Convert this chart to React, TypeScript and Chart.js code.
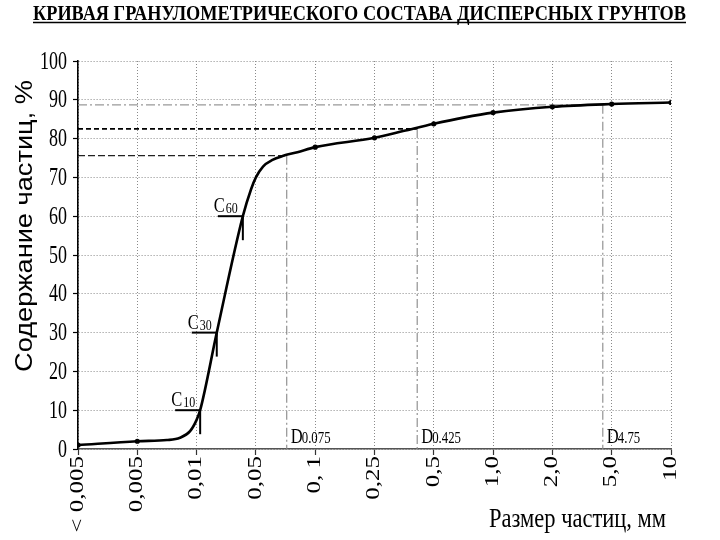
import React, { useEffect, useRef } from 'react';
import { Chart, registerables } from 'chart.js';

Chart.register(...registerables);

const titleText = 'КРИВАЯ ГРАНУЛОМЕТРИЧЕСКОГО СОСТАВА ДИСПЕРСНЫХ ГРУНТОВ';
const yAxisTitle = 'Содержание частиц, %';
const xAxisTitle = 'Размер частиц, мм';

const sizeCategories = ['< 0,005', '0,005', '0,01', '0,05', '0, 1', '0,25', '0,5', '1,0', '2,0', '5,0', '10'];
const yTickValues = [0, 10, 20, 30, 40, 50, 60, 70, 80, 90, 100];

// grading curve: x = category index (fractional between categories), y = % passing
const curveX = [0, 1, 1.5, 1.72, 1.89, 2.0, 2.06, 2.34, 2.78, 2.92, 3.0, 3.12, 3.28, 3.45, 3.7, 4, 5, 5.5, 6, 6.5, 7, 8, 9, 10];
const curveY = [1, 2, 2.3, 2.9, 4.6, 7.5, 10, 30, 60, 67, 70, 72.8, 74.5, 75.5, 76.5, 77.8, 80.2, 82, 83.8, 85.4, 86.7, 88.2, 88.9, 89.3];
const markerIndices = [0, 1, 4, 5, 6, 7, 8, 9, 10];

// characteristic diameters C10, C30, C60
const cNames = ['10', '30', '60'];
const cX = [2.06, 2.34, 2.78];
const cY = [10, 30, 60];

// sieve reference lines D0.075, D0.425, D4.75
const dNames = ['0.075', '0.425', '4.75'];
const dX = [3.52, 5.72, 8.85];
const dY = [75.6, 82.5, 88.7];

const hLineStyles = [
  { color: '#222', dash: [7, 3], width: 1.3 },
  { color: '#000', dash: [5, 3], width: 1.8 },
  { color: '#999', dash: [9, 3, 2, 3], width: 1.2 },
];

const SERIF = '"Liberation Serif", "DejaVu Serif", serif';
const SANS = '"Liberation Sans", Arial, sans-serif';

function drawText(
  ctx: CanvasRenderingContext2D,
  text: string,
  x: number,
  y: number,
  font: string,
  sx: number,
  align: CanvasTextAlign,
  baseline: CanvasTextBaseline,
) {
  ctx.save();
  ctx.translate(x, y);
  ctx.scale(sx, 1);
  ctx.font = font;
  ctx.textAlign = align;
  ctx.textBaseline = baseline;
  ctx.fillText(text, 0, 0);
  ctx.restore();
}

const decorPlugin = {
  id: 'decor',
  beforeDatasetsDraw(chart: any) {
    const ctx: CanvasRenderingContext2D = chart.ctx;
    const xs = chart.scales.x;
    const ys = chart.scales.y;
    ctx.save();
    for (let i = 0; i < dX.length; i++) {
      const px = xs.getPixelForValue(dX[i]);
      const py = ys.getPixelForValue(dY[i]);
      const st = hLineStyles[i];
      ctx.beginPath();
      ctx.setLineDash(st.dash);
      ctx.strokeStyle = st.color;
      ctx.lineWidth = st.width;
      ctx.moveTo(xs.getPixelForValue(0), py);
      ctx.lineTo(px, py);
      ctx.stroke();
      ctx.beginPath();
      ctx.setLineDash([9, 3, 2, 3]);
      ctx.strokeStyle = '#888';
      ctx.lineWidth = 1.1;
      ctx.moveTo(px, py);
      ctx.lineTo(px, ys.getPixelForValue(0));
      ctx.stroke();
    }
    ctx.restore();
  },
  afterDraw(chart: any) {
    const ctx: CanvasRenderingContext2D = chart.ctx;
    const xs = chart.scales.x;
    const ys = chart.scales.y;
    const area = chart.chartArea;
    ctx.save();
    ctx.fillStyle = '#000';
    ctx.strokeStyle = '#000';
    ctx.setLineDash([]);

    // C markers
    for (let i = 0; i < cX.length; i++) {
      const px = xs.getPixelForValue(cX[i]);
      const py = ys.getPixelForValue(cY[i]);
      ctx.lineWidth = 2;
      ctx.beginPath();
      ctx.moveTo(px - 25, py);
      ctx.lineTo(px, py);
      ctx.stroke();
      ctx.beginPath();
      ctx.moveTo(px, py);
      ctx.lineTo(px, py + 24);
      ctx.stroke();
      drawText(ctx, 'C', px - 29, py - 4, `22px ${SERIF}`, 0.75, 'left', 'alphabetic');
      drawText(ctx, cNames[i], px - 17, py - 3, `15px ${SERIF}`, 0.8, 'left', 'alphabetic');
    }

    // D labels
    for (let i = 0; i < dX.length; i++) {
      const px = xs.getPixelForValue(dX[i]);
      const base = area.bottom - 6;
      drawText(ctx, 'D', px + 4, base, `22px ${SERIF}`, 0.75, 'left', 'alphabetic');
      drawText(ctx, dNames[i], px + 15, base, `16px ${SERIF}`, 0.8, 'left', 'alphabetic');
    }

    // y tick labels
    for (const v of yTickValues) {
      drawText(ctx, String(v), 67, ys.getPixelForValue(v) + 1, `25px ${SERIF}`, 0.72, 'right', 'middle');
    }

    // x tick labels (rotated)
    sizeCategories.forEach((lab, i) => {
      const px = xs.getPixelForValue(i);
      ctx.save();
      ctx.translate(px, 456);
      ctx.scale(0.72, 1);
      ctx.rotate(-Math.PI / 2);
      ctx.font = `25px ${SERIF}`;
      ctx.textAlign = 'right';
      ctx.textBaseline = 'middle';
      ctx.fillText(lab, 0, 0);
      ctx.restore();
    });
    ctx.restore();

    // title (fitted, underlined)
    ctx.save();
    ctx.font = `bold 20px ${SERIF}`;
    const tw = ctx.measureText(titleText).width;
    const tLeft = 33;
    const tRight = 686;
    ctx.translate(tLeft, 20);
    ctx.scale((tRight - tLeft) / tw, 1);
    ctx.fillStyle = '#000';
    ctx.textAlign = 'left';
    ctx.textBaseline = 'alphabetic';
    ctx.fillText(titleText, 0, 0);
    ctx.restore();
    ctx.save();
    ctx.strokeStyle = '#000';
    ctx.lineWidth = 1.3;
    ctx.beginPath();
    ctx.moveTo(tLeft, 22.5);
    ctx.lineTo(tRight, 22.5);
    ctx.stroke();
    ctx.restore();

    // x axis title
    ctx.save();
    ctx.font = `27px ${SERIF}`;
    const xw = ctx.measureText(xAxisTitle).width;
    ctx.translate(489, 527);
    ctx.scale(177 / xw, 1);
    ctx.fillStyle = '#000';
    ctx.textAlign = 'left';
    ctx.textBaseline = 'alphabetic';
    ctx.fillText(xAxisTitle, 0, 0);
    ctx.restore();

    // y axis title
    ctx.save();
    ctx.font = `26px ${SANS}`;
    const yw = ctx.measureText(yAxisTitle).width;
    ctx.translate(32, 226);
    ctx.scale(0.92, 1);
    ctx.rotate(-Math.PI / 2);
    ctx.scale(292 / yw, 1);
    ctx.fillStyle = '#000';
    ctx.textAlign = 'center';
    ctx.textBaseline = 'alphabetic';
    ctx.fillText(yAxisTitle, 0, 0);
    ctx.restore();
  },
};

export default function App() {
  const ref = useRef<HTMLCanvasElement | null>(null);
  useEffect(() => {
    if (!ref.current) return;
    const points = curveX.map((x, i) => ({ x, y: curveY[i] }));
    const chart = new Chart(ref.current, {
      type: 'line',
      data: {
        datasets: [
          {
            data: points,
            borderColor: '#000',
            backgroundColor: '#000',
            borderWidth: 2.6,
            cubicInterpolationMode: 'monotone',
            pointRadius: (c: any) => {
              const xv = c.raw ? c.raw.x : -1;
              return markerIndices.includes(xv) ? 2.6 : 0;
            },
            pointBackgroundColor: '#000',
            pointBorderWidth: 0,
          },
        ],
      },
      options: {
        animation: false,
        responsive: false,
        maintainAspectRatio: false,
        events: [],
        layout: { padding: { top: 61, right: 49, left: 0, bottom: 0 } },
        plugins: { legend: { display: false }, title: { display: false }, tooltip: { enabled: false } },
        scales: {
          x: {
            type: 'linear',
            min: 0,
            max: sizeCategories.length - 1,
            ticks: { display: false, stepSize: 1 },
            grid: {
              color: '#8a8a8a',
              lineWidth: 1,
              drawTicks: true,
              tickLength: 6,
              tickColor: '#333',
              tickBorderDash: [],
              tickWidth: 1.2,
            } as any,
            border: { display: true, color: '#555', width: 1.5, dash: [1, 2] } as any,
            afterFit: (s: any) => {
              s.height = 91;
            },
          },
          y: {
            type: 'linear',
            min: 0,
            max: 100,
            ticks: { display: false, stepSize: 10 },
            grid: {
              color: '#8a8a8a',
              lineWidth: 1,
              drawTicks: true,
              tickLength: 5,
              tickColor: '#000',
              tickBorderDash: [],
              tickWidth: 1.2,
            } as any,
            border: { display: true, color: '#000', width: 1.6, dash: [1, 2] } as any,
            afterFit: (s: any) => {
              s.width = 78;
            },
          },
        },
      },
      plugins: [decorPlugin],
    } as any);
    return () => chart.destroy();
  }, []);
  return (
    <div style={{ position: 'absolute', left: 0, top: 0, width: 720, height: 540, background: '#fff' }}>
      <canvas ref={ref} width={720} height={540} style={{ display: 'block', width: 720, height: 540 }} />
    </div>
  );
}
